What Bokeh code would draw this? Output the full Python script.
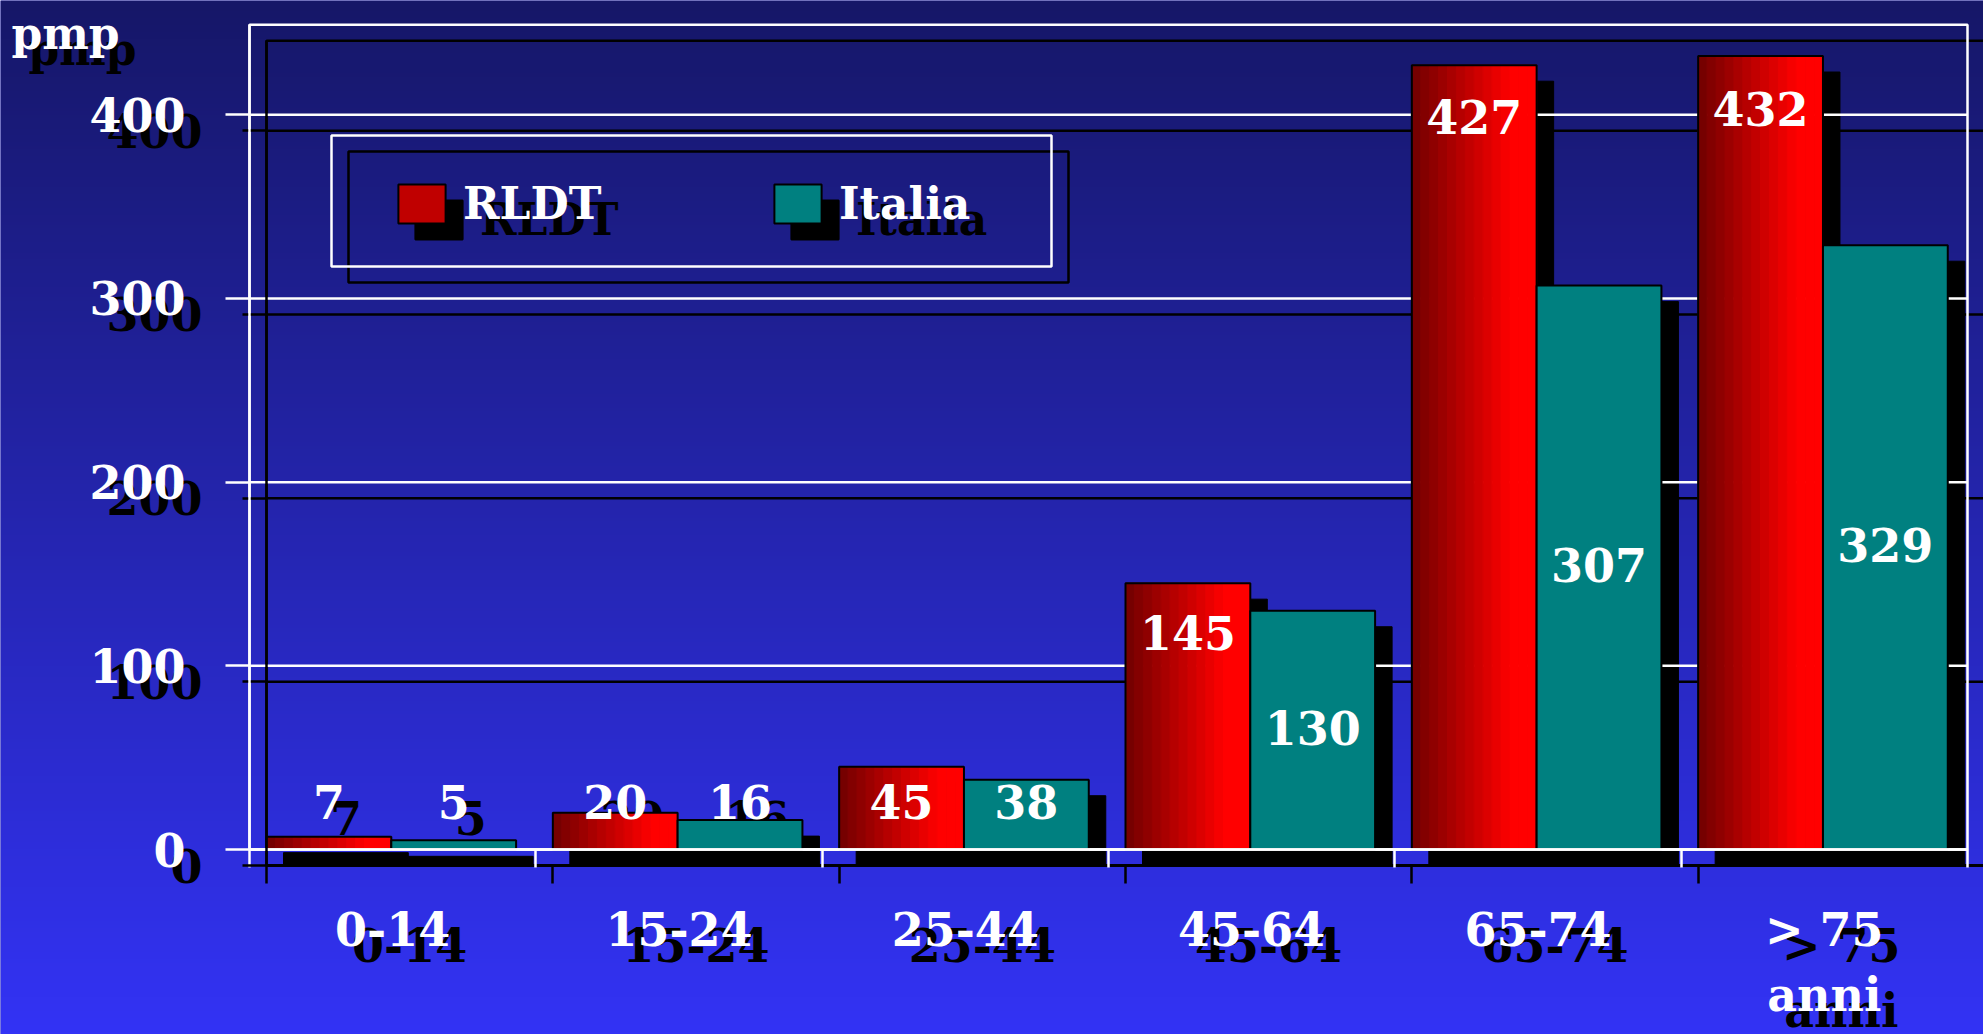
import numpy as np
from bokeh.plotting import figure
from bokeh.models import (Range1d, LinearAxis, FixedTicker, ColumnDataSource,
                          Legend, LegendItem, Label)
from bokeh.core.properties import value
from bokeh.embed import file_html
from bokeh.resources import INLINE

# ---------------- data ----------------
categories = ["0-14", "15-24", "25-44", "45-64", "65-74", "> 75\nanni"]
series_names = ["RLDT", "Italia"]
rldt = [7, 20, 45, 145, 427, 432]
italia = [5, 16, 38, 130, 307, 329]
rldt_label_y = [26, 26, 26, 118, 399, 403]
italia_label_y = [26, 26, 26, 66, 155, 166]
y_ticks = [0, 100, 200, 300, 400]
y_unit = "pmp"
y_box_top = 449

# ---------------- layout ----------------
W, H = 1983, 1034
FL, FR = 249, 1967            # white plot box left / right (canvas px)
ZERO_PX, Y400_PX = 849, 114.3  # canvas px of value 0 and 400
n = len(categories)
kx = (FR - FL) / n
ky = (ZERO_PX - Y400_PX) / 400.0
X0 = -FL / kx
X1 = X0 + W / kx
YB = -(H - ZERO_PX) / ky
YT = YB + H / ky
SHX, SHY = 17, 16             # shadow offset px
dxu, dyu = SHX / kx, SHY / ky
BW = 124.8 / kx               # bar width in category units
FONT = "DejaVu Serif"
LW = 2.5


def xd(px):
    return X0 + px / kx


def yd(py):
    return (ZERO_PX - py) / ky


p = figure(width=W, height=H, x_range=Range1d(X0, X1), y_range=Range1d(YB, YT),
           x_axis_type=None, y_axis_type=None, output_backend="svg",
           toolbar_location=None, min_border=0, outline_line_color=None,
           background_fill_color="#2626b8", border_fill_color="#2626b8")
p.min_border_left = p.min_border_right = p.min_border_top = p.min_border_bottom = 0
p.extra_x_ranges = {"sx": Range1d(X0 - dxu, X1 - dxu),
                    "sx2": Range1d(X0 - 2 * dxu, X1 - 2 * dxu)}
p.extra_y_ranges = {"sy": Range1d(YB + dyu, YT + dyu)}

# background gradient
rows = 300
t = np.linspace(0.0, 1.0, rows)
bottom_c = np.array([51, 51, 245])
top_c = np.array([22, 23, 104])
img = np.zeros((rows, 2), dtype=np.uint32)
view = img.view(dtype=np.uint8).reshape((rows, 2, 4))
for k in range(3):
    view[:, :, k] = (bottom_c[k] + (top_c[k] - bottom_c[k]) * t).astype(np.uint8)[:, None]
view[:, :, 3] = 255
p.image_rgba(image=[img], x=X0, y=YB, dw=X1 - X0, dh=YT - YB)

idx = list(range(n))
red_left = [i for i in idx]
red_right = [i + BW for i in idx]
teal_left = [i + BW for i in idx]
teal_right = [i + 2 * BW for i in idx]

# ---------------- shadow layer ----------------
sh = dict(x_range_name="sx", y_range_name="sy")
p.quad(left=[0], right=[n], bottom=[0], top=[y_box_top], fill_color=None,
       line_color="black", line_width=LW, **sh)
p.segment(x0=[0] * len(y_ticks), x1=[n] * len(y_ticks), y0=y_ticks, y1=y_ticks,
          line_color="black", line_width=LW, **sh)
# legend shadow box
p.quad(left=[xd(331)], right=[xd(1051)], top=[yd(135)], bottom=[yd(266)],
       fill_color=None, line_color="black", line_width=LW, **sh)

lab_src = ColumnDataSource(dict(
    x=[i + BW / 2 for i in idx] + [i + 1.5 * BW for i in idx],
    y=rldt_label_y + italia_label_y,
    text=[str(v) for v in rldt + italia]))
txt_style = dict(text_font=value(FONT), text_font_style="bold", text_font_size="46px",
                 text_align="center", text_baseline="middle")
p.text(x="x", y="y", text="text", source=lab_src, text_color="black",
       x_range_name="sx2", y_range_name="sy", **txt_style)

# bar shadows
p.quad(left=red_left + teal_left, right=red_right + teal_right,
       bottom=[0] * (2 * n), top=rldt + italia, fill_color="black", line_color="black",
       line_width=1, x_range_name="sx2", y_range_name="sy")

# ---------------- front layer ----------------
p.segment(x0=[0] * len(y_ticks), x1=[n] * len(y_ticks), y0=y_ticks, y1=y_ticks,
          line_color="white", line_width=LW)
p.quad(left=[xd(331)], right=[xd(1051)], top=[yd(135)], bottom=[yd(266)],
       fill_color=None, line_color="white", line_width=LW)

# red bars with horizontal gradient (strips)
NS = 14
sl, sr, st, sc = [], [], [], []
for i in idx:
    for j in range(NS):
        f = (j + 0.5) / NS
        rv = int(min(255, 112 + (255 - 112) * f / 0.8))
        sl.append(i + BW * j / NS)
        sr.append(i + BW * (j + 1) / NS)
        st.append(rldt[i])
        sc.append("#%02x0000" % rv)
p.quad(left=sl, right=sr, bottom=[0] * len(sl), top=st, fill_color=sc,
       line_color=sc, line_width=1, x_range_name="sx")
p.quad(left=red_left, right=red_right, bottom=[0] * n, top=rldt, fill_color=None,
       line_color="black", line_width=2, x_range_name="sx")
p.quad(left=teal_left, right=teal_right, bottom=[0] * n, top=italia,
       fill_color="#008080", line_color="black", line_width=2, x_range_name="sx")

p.text(x="x", y="y", text="text", source=lab_src, text_color="white",
       x_range_name="sx", **txt_style)

# white plot box
p.quad(left=[0], right=[n], bottom=[0], top=[y_box_top], fill_color=None,
       line_color="white", line_width=LW)

# ---------------- axes ----------------
centers = [i + 0.5 for i in idx]


def add_axes(color, xr, yr):
    ya = LinearAxis(x_range_name=xr, y_range_name=yr, fixed_location=0,
                    bounds=(0, y_box_top), ticker=FixedTicker(ticks=y_ticks),
                    axis_line_color=color, axis_line_width=LW,
                    major_tick_line_color=color, major_tick_line_width=LW,
                    major_tick_out=24, major_tick_in=0, minor_tick_line_color=None,
                    major_label_standoff=40, major_label_text_color=color,
                    major_label_text_font=FONT, major_label_text_font_style="bold",
                    major_label_text_font_size="46px")
    xa = LinearAxis(x_range_name=xr, y_range_name=yr, fixed_location=0,
                    bounds=(0, n),
                    ticker=FixedTicker(ticks=centers, minor_ticks=list(range(n + 1))),
                    major_label_overrides={c: lab for c, lab in zip(centers, categories)},
                    axis_line_color=color, axis_line_width=LW,
                    major_tick_line_color=None, major_tick_out=0, major_tick_in=0,
                    minor_tick_line_color=color, minor_tick_line_width=LW,
                    minor_tick_out=18, minor_tick_in=0,
                    major_label_standoff=35, major_label_text_color=color,
                    major_label_text_font=FONT, major_label_text_font_style="bold",
                    major_label_text_font_size="46px",
                    major_label_text_line_height=1.22)
    p.add_layout(xa, "below")
    p.add_layout(ya, "left")


add_axes("black", "sx", "sy")
add_axes("white", "default", "default")

# ---------------- legends ----------------
def swatch(fill):
    src = ColumnDataSource(dict(l=[np.nan], r=[np.nan], t=[np.nan], b=[np.nan]))
    return p.quad(left="l", right="r", top="t", bottom="b", source=src,
                  fill_color=fill, line_color="black", line_width=2)


lr_b = swatch("black")
lt_b = swatch("black")
lr_w = swatch("#c00000")
lt_w = swatch("#008080")

leg_style = dict(orientation="horizontal", padding=0, margin=0, spacing=129,
                 glyph_width=59, glyph_height=49, label_standoff=12, label_width=176,
                 label_text_font=FONT, label_text_font_style="bold",
                 label_text_font_size="44px", border_line_color=None,
                 background_fill_alpha=0)
LX, LY = 392, 805
leg_b = Legend(items=[LegendItem(label=series_names[0], renderers=[lr_b]),
                      LegendItem(label=series_names[1], renderers=[lt_b])],
               location=(LX + SHX, LY - SHY), label_text_color="black", **leg_style)
leg_w = Legend(items=[LegendItem(label=series_names[0], renderers=[lr_w]),
                      LegendItem(label=series_names[1], renderers=[lt_w])],
               location=(LX, LY), label_text_color="white", **leg_style)
p.add_layout(leg_b)
p.add_layout(leg_w)

# unit label
unit_style = dict(text=y_unit, text_font=FONT, text_font_style="bold",
                  text_font_size="44px", text_align="left", text_baseline="alphabetic")
p.add_layout(Label(x=xd(11 + SHX), y=yd(33 + SHY), text_color="black", **unit_style))
p.add_layout(Label(x=xd(11), y=yd(33), text_color="white", **unit_style))

open("out.html", "w").write(file_html(p, INLINE))
